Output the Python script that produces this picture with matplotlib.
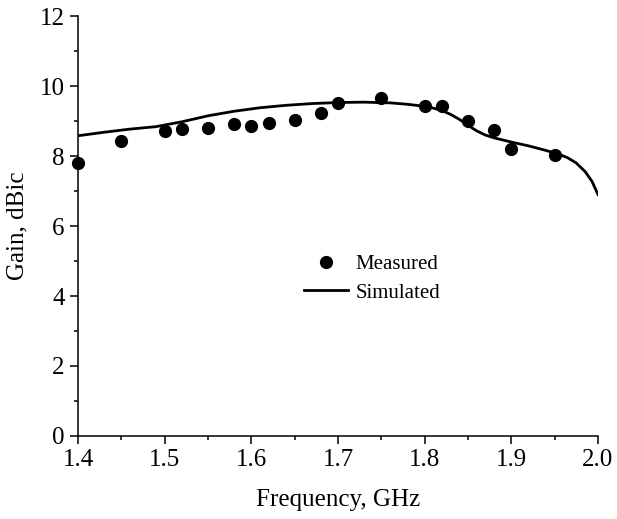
import matplotlib
matplotlib.use("Agg")
import matplotlib.pyplot as plt
from matplotlib.ticker import MultipleLocator

# measured gain (dots)
freq_meas = [1.40, 1.45, 1.50, 1.52, 1.55, 1.58, 1.60, 1.62, 1.65, 1.68, 1.70,
             1.75, 1.80, 1.82, 1.85, 1.88, 1.90, 1.95]
gain_meas = [7.81, 8.42, 8.73, 8.76, 8.80, 8.92, 8.87, 8.95, 9.04, 9.22, 9.52,
             9.67, 9.44, 9.44, 9.01, 8.75, 8.20, 8.04]

# simulated gain (line)
freq_sim = [1.40, 1.43, 1.46, 1.49, 1.52, 1.55, 1.58, 1.61, 1.64, 1.67, 1.70,
            1.73, 1.76, 1.78, 1.80, 1.81, 1.82, 1.83, 1.84, 1.85, 1.86, 1.87,
            1.88, 1.90, 1.92, 1.94, 1.955, 1.965, 1.975, 1.985, 1.993, 2.00]
gain_sim = [8.58, 8.68, 8.77, 8.84, 8.98, 9.15, 9.28, 9.38, 9.45, 9.50, 9.53,
            9.54, 9.52, 9.48, 9.42, 9.37, 9.30, 9.19, 9.05, 8.88, 8.72, 8.60,
            8.52, 8.40, 8.29, 8.16, 8.05, 7.95, 7.80, 7.56, 7.28, 6.90]

plt.rcParams['font.family'] = ['Liberation Serif', 'DejaVu Serif']

fig = plt.figure(figsize=(6.17, 5.19), dpi=100)
ax = fig.add_axes([0.1264, 0.16, 0.8428, 0.809])

ax.plot(freq_meas, gain_meas, 'o', color='k', markersize=8.5, label='Measured',
        clip_on=False, zorder=3)
ax.plot(freq_sim, gain_sim, '-', color='k', linewidth=2.0, label='Simulated')

ax.set_xlim(1.4, 2.0)
ax.set_ylim(0, 12)
ax.xaxis.set_major_locator(MultipleLocator(0.1))
ax.xaxis.set_minor_locator(MultipleLocator(0.05))
ax.yaxis.set_major_locator(MultipleLocator(2))
ax.yaxis.set_minor_locator(MultipleLocator(1))
ax.xaxis.set_major_formatter(plt.FuncFormatter(lambda v, p: '%.1f' % v))

for s in ['top', 'right']:
    ax.spines[s].set_visible(False)
for s in ['left', 'bottom']:
    ax.spines[s].set_linewidth(1.1)

ax.tick_params(which='major', direction='out', length=6, width=1.1, labelsize=18)
ax.tick_params(which='minor', direction='out', length=3, width=1.1)

ax.set_xlabel('Frequency, GHz', fontsize=18, labelpad=13)
ax.set_ylabel('Gain, dBic', fontsize=18, labelpad=8)

ax.legend(loc='center left', bbox_to_anchor=(0.435, 0.375), frameon=False,
          fontsize=15, handlelength=2.1, handletextpad=0.35, labelspacing=0.45,
          borderpad=0, borderaxespad=0, numpoints=1)

fig.savefig('out.png', dpi=100)
